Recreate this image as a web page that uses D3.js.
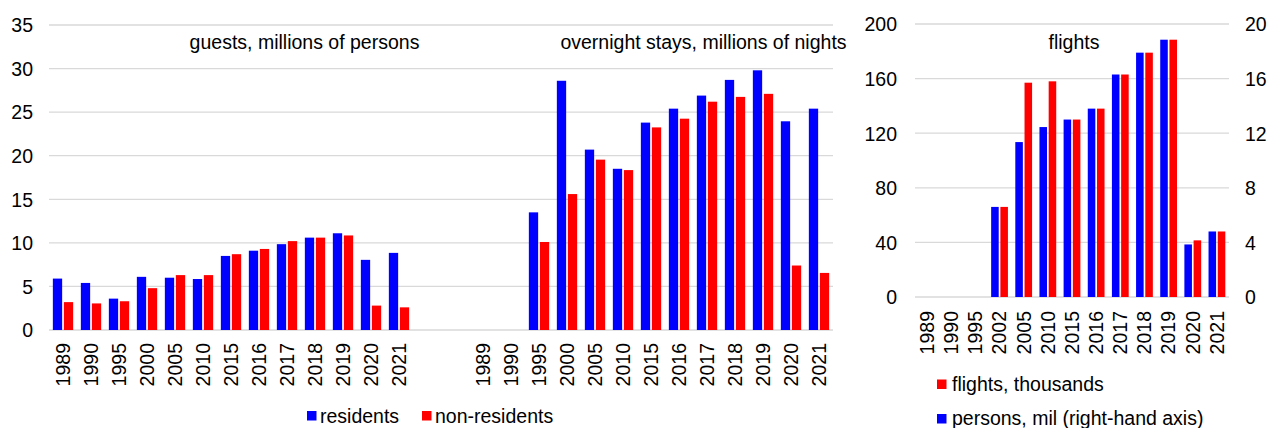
<!DOCTYPE html>
<html>
<head>
<meta charset="utf-8">
<script src="https://cdn.jsdelivr.net/npm/d3@7"></script>
<style>
  html, body { margin: 0; padding: 0; background: #fff; }
  text { font-family: "Liberation Sans", Arial, sans-serif; fill: #000; }
</style>
</head>
<body>
<svg id="chart" width="1269" height="428"></svg>
<script>
// Years shown in the guests / overnight stays panels
const tourismYears = ["1989","1990","1995","2000","2005","2010","2015","2016","2017","2018","2019","2020","2021"];
// Guests, millions of persons
const guestsResidents    = [5.9, 5.4, 3.6, 6.1, 6.0, 5.85, 8.5, 9.1, 9.85, 10.6, 11.1, 8.05, 8.85];
const guestsNonResidents = [3.2, 3.05, 3.3, 4.8, 6.3, 6.3, 8.7, 9.3, 10.2, 10.6, 10.85, 2.8, 2.6];
// Overnight stays, millions of nights
const staysResidents    = [null, null, 13.5, 28.6, 20.7, 18.5, 23.8, 25.4, 26.9, 28.7, 29.8, 23.95, 25.4];
const staysNonResidents = [null, null, 10.1, 15.6, 19.55, 18.35, 23.25, 24.25, 26.2, 26.75, 27.1, 7.4, 6.55];
// Air transport
const flightYears      = ["1989","1990","1995","2002","2005","2010","2015","2016","2017","2018","2019","2020","2021"];
const flightsThousands = [null, null, null, 66, 157, 158, 130, 138, 163, 179, 188.5, 41.5, 48];
const personsMil       = [null, null, null, 6.6, 11.35, 12.45, 13.0, 13.8, 16.3, 17.9, 18.85, 3.85, 4.8];
// Axis ticks
const tourismTicks = [0, 5, 10, 15, 20, 25, 30, 35];
const flightsTicks = [0, 40, 80, 120, 160, 200];
const personsTicks = [0, 4, 8, 12, 16, 20];

const BLUE = "#0000ff", RED = "#ff0000", GRID = "#d9d9d9";
const FONT = 19.5;

const svg = d3.select("#chart");
svg.append("rect").attr("width", 1269).attr("height", 428).attr("fill", "#fff");

// ---------- Guests + overnight stays (shared axis) ----------
{
  const left = 49, right = 833, top = 25, bottom = 330;
  const keys = [
    ...tourismYears.map(y => "g" + y),
    "gap1", "gap2",
    ...tourismYears.map(y => "s" + y)
  ];
  const x = d3.scaleBand().domain(keys).range([left, right]).padding(0);
  const sub = d3.scaleBand().domain(["res", "non"]).range([0, x.bandwidth()])
    .paddingInner(0.155).paddingOuter(0.35);
  const y = d3.scaleLinear().domain([0, 35]).range([bottom, top]);

  const g = svg.append("g");
  g.selectAll("line.grid").data(tourismTicks).join("line")
    .attr("x1", left).attr("x2", right)
    .attr("y1", d => y(d)).attr("y2", d => y(d))
    .attr("stroke", GRID).attr("stroke-width", 1.3);

  const yAxis = d3.axisLeft(y).tickValues(tourismTicks).tickSize(0).tickPadding(0);
  const ay = g.append("g").attr("transform", "translate(33,0)").call(yAxis);
  ay.select(".domain").remove();
  ay.selectAll("text").attr("font-size", FONT).attr("font-family", null).attr("dy", "0.35em").attr("x", 0);

  const rows = [];
  tourismYears.forEach((yr, i) => {
    rows.push({ key: "g" + yr, s: "res", v: guestsResidents[i] });
    rows.push({ key: "g" + yr, s: "non", v: guestsNonResidents[i] });
    rows.push({ key: "s" + yr, s: "res", v: staysResidents[i] });
    rows.push({ key: "s" + yr, s: "non", v: staysNonResidents[i] });
  });
  g.selectAll("rect.bar").data(rows.filter(d => d.v != null)).join("rect")
    .attr("x", d => x(d.key) + sub(d.s))
    .attr("width", sub.bandwidth())
    .attr("y", d => y(d.v))
    .attr("height", d => y(0) - y(d.v))
    .attr("fill", d => d.s === "res" ? BLUE : RED);

  const xAxis = d3.axisBottom(x)
    .tickValues(keys.filter(k => !k.startsWith("gap")))
    .tickFormat(k => k.slice(1)).tickSize(0).tickPadding(0);
  const ax = g.append("g").attr("transform", `translate(0,${bottom})`).call(xAxis);
  ax.select(".domain").remove();
  ax.selectAll("text").attr("font-size", FONT).attr("font-family", null)
    .attr("text-anchor", "end").attr("transform", "rotate(-90)")
    .attr("x", -13).attr("y", 0).attr("dy", "0.35em");

  g.append("text").attr("x", 304.5).attr("y", 49).attr("text-anchor", "middle")
    .attr("font-size", FONT).text("guests, millions of persons");
  g.append("text").attr("x", 703.5).attr("y", 49).attr("text-anchor", "middle")
    .attr("font-size", FONT).text("overnight stays, millions of nights");

  // legend
  const lg = g.append("g");
  lg.append("rect").attr("x", 307).attr("y", 411).attr("width", 9.5).attr("height", 9.5).attr("fill", BLUE);
  lg.append("text").attr("x", 320).attr("y", 422.5).attr("font-size", FONT).text("residents");
  lg.append("rect").attr("x", 422).attr("y", 411).attr("width", 9.5).attr("height", 9.5).attr("fill", RED);
  lg.append("text").attr("x", 435).attr("y", 422.5).attr("font-size", FONT).text("non-residents");
}

// ---------- Flights (dual axis) ----------
{
  const left = 915, right = 1229, top = 24, bottom = 297;
  const x = d3.scaleBand().domain(flightYears).range([left, right]).padding(0);
  const sub = d3.scaleBand().domain(["persons", "flights"]).range([0, x.bandwidth()])
    .paddingInner(0.18).paddingOuter(0.4);
  const yL = d3.scaleLinear().domain([0, 200]).range([bottom, top]);
  const yR = d3.scaleLinear().domain([0, 20]).range([bottom, top]);

  const g = svg.append("g");
  g.selectAll("line.grid").data(flightsTicks).join("line")
    .attr("x1", left).attr("x2", right)
    .attr("y1", d => yL(d)).attr("y2", d => yL(d))
    .attr("stroke", GRID).attr("stroke-width", 1.3);

  const al = g.append("g").attr("transform", "translate(897,0)")
    .call(d3.axisLeft(yL).tickValues(flightsTicks).tickSize(0).tickPadding(0));
  al.select(".domain").remove();
  al.selectAll("text").attr("font-size", FONT).attr("font-family", null).attr("dy", "0.35em").attr("x", 0);

  const ar = g.append("g").attr("transform", "translate(1245,0)")
    .call(d3.axisRight(yR).tickValues(personsTicks).tickSize(0).tickPadding(0));
  ar.select(".domain").remove();
  ar.selectAll("text").attr("font-size", FONT).attr("font-family", null).attr("dy", "0.35em").attr("x", 0);

  const rows = [];
  flightYears.forEach((yr, i) => {
    if (personsMil[i] != null) rows.push({ k: yr, s: "persons", y: yR(personsMil[i]) });
    if (flightsThousands[i] != null) rows.push({ k: yr, s: "flights", y: yL(flightsThousands[i]) });
  });
  g.selectAll("rect.bar").data(rows).join("rect")
    .attr("x", d => x(d.k) + sub(d.s))
    .attr("width", sub.bandwidth())
    .attr("y", d => d.y)
    .attr("height", d => bottom - d.y)
    .attr("fill", d => d.s === "persons" ? BLUE : RED);

  const ax = g.append("g").attr("transform", `translate(0,${bottom})`)
    .call(d3.axisBottom(x).tickSize(0).tickPadding(0));
  ax.select(".domain").remove();
  ax.selectAll("text").attr("font-size", FONT).attr("font-family", null)
    .attr("text-anchor", "end").attr("transform", "rotate(-90)")
    .attr("x", -14).attr("y", 0).attr("dy", "0.35em");

  g.append("text").attr("x", 1074).attr("y", 49).attr("text-anchor", "middle")
    .attr("font-size", FONT).text("flights");

  const lg = g.append("g");
  lg.append("rect").attr("x", 937).attr("y", 379.5).attr("width", 9.5).attr("height", 9.5).attr("fill", RED);
  lg.append("text").attr("x", 952).attr("y", 390.5).attr("font-size", FONT).text("flights, thousands");
  lg.append("rect").attr("x", 937).attr("y", 414).attr("width", 9.5).attr("height", 9.5).attr("fill", BLUE);
  lg.append("text").attr("x", 952).attr("y", 424.5).attr("font-size", FONT).text("persons, mil (right-hand axis)");
}
</script>
</body>
</html>
